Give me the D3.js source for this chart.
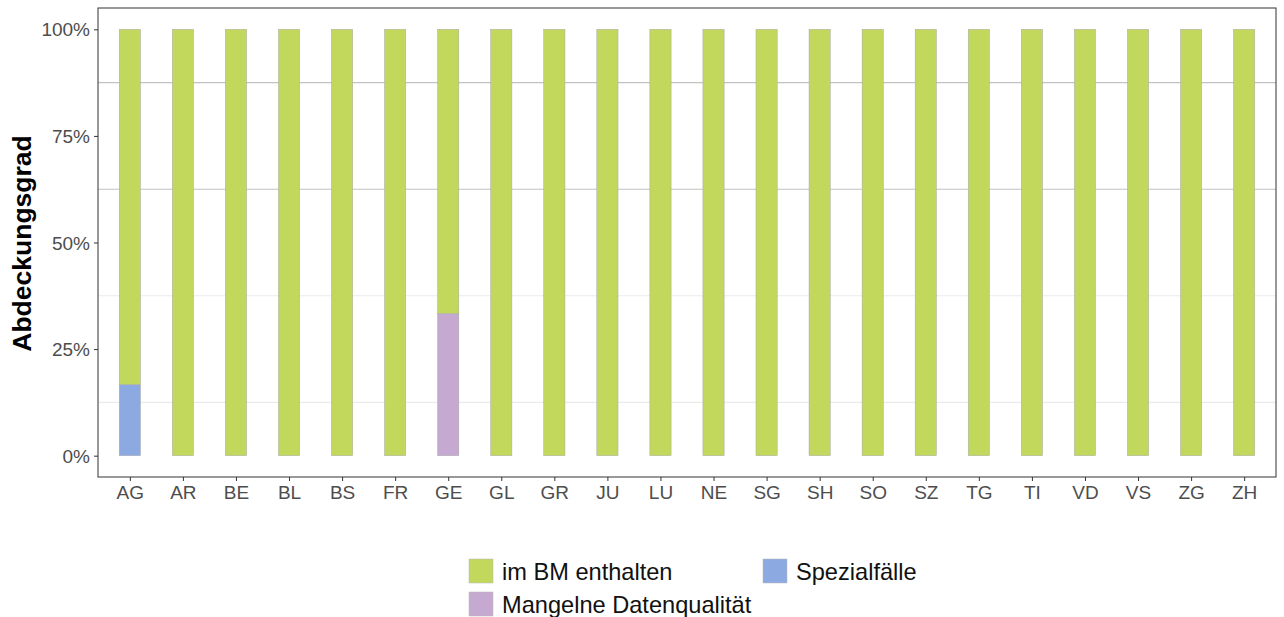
<!DOCTYPE html>
<html>
<head>
<meta charset="utf-8">
<script src="https://d3js.org/d3.v7.min.js"></script>
<style>
  body { margin: 0; background: #fff; }
  text { font-family: "Liberation Sans", Arial, sans-serif; }
</style>
</head>
<body>
<div id="chart"></div>
<script>
const cantons = ["AG","AR","BE","BL","BS","FR","GE","GL","GR","JU","LU","NE","SG","SH","SO","SZ","TG","TI","VD","VS","ZG","ZH"]
// shares per canton (stacked from bottom: Spezialfälle, Mangelne Datenqualität, im BM enthalten)
const spezial = [1/6,0,0,0,0,0,0,0,0,0,0,0,0,0,0,0,0,0,0,0,0,0]
const mangel  = [0,0,0,0,0,0,1/3,0,0,0,0,0,0,0,0,0,0,0,0,0,0,0]
const imBM    = cantons.map((c, i) => 1 - spezial[i] - mangel[i])
const yTicks = [0, 0.25, 0.5, 0.75, 1]
const minorTicks = [0.125, 0.375, 0.625, 0.875]

const series = [
  { key: "Spezialfälle", values: spezial, color: "#8DA9E1" },
  { key: "Mangelne Datenqualität", values: mangel, color: "#C6A9D1" },
  { key: "im BM enthalten", values: imBM, color: "#C1D85C" }
]

const width = 1284, height = 617
const panel = { left: 98, right: 1276, top: 8, bottom: 477 }

const svg = d3.select("#chart").append("svg")
  .attr("width", width).attr("height", height)

const unit = (panel.right - panel.left) / (cantons.length - 1 + 1.2)
const x = d3.scalePoint()
  .domain(cantons)
  .range([panel.left + 0.6 * unit, panel.right - 0.6 * unit])
const barW = 0.4 * unit

const y = d3.scaleLinear()
  .domain([-0.05, 1.05])
  .range([panel.bottom, panel.top])

// minor gridlines
svg.append("g").selectAll("line")
  .data(minorTicks).enter().append("line")
  .attr("x1", panel.left).attr("x2", panel.right)
  .attr("y1", d => y(d)).attr("y2", d => y(d))
  .attr("stroke", d => d > 0.5 ? "#C2C2C2" : "#EBEBEB")
  .attr("stroke-width", 1.1)

// stacked bars
const stackData = cantons.map((c, i) => {
  const row = { canton: c }
  series.forEach(s => row[s.key] = s.values[i])
  return row
})
const stack = d3.stack().keys(series.map(s => s.key))(stackData)

stack.forEach((layer, li) => {
  svg.append("g").selectAll("rect")
    .data(layer.filter(d => d[1] - d[0] > 0)).enter().append("rect")
    .attr("x", d => x(d.data.canton) - barW / 2)
    .attr("width", barW)
    .attr("y", d => y(d[1]))
    .attr("height", d => y(d[0]) - y(d[1]))
    .attr("fill", series[li].color)
    .attr("stroke", "#A8A8A8")
    .attr("stroke-width", 0.5)
})

// panel border
svg.append("rect")
  .attr("x", panel.left).attr("y", panel.top)
  .attr("width", panel.right - panel.left).attr("height", panel.bottom - panel.top)
  .attr("fill", "none").attr("stroke", "#333").attr("stroke-width", 1)

// axes
const yAxis = svg.append("g")
  .attr("transform", "translate(" + panel.left + ",0)")
  .call(d3.axisLeft(y).tickValues(yTicks).tickFormat(d3.format(".0%")).tickSizeOuter(0).tickSize(4).tickPadding(4))
yAxis.select(".domain").remove()
yAxis.selectAll(".tick line").attr("stroke", "#333")
yAxis.selectAll(".tick text").attr("fill", "#4D4D4D").style("font-size", "19px")
  .attr("dy", "0.35em")

const xAxis = svg.append("g")
  .attr("transform", "translate(0," + panel.bottom + ")")
  .call(d3.axisBottom(x).tickSizeOuter(0).tickSize(4).tickPadding(5))
xAxis.select(".domain").remove()
xAxis.selectAll(".tick line").attr("stroke", "#333")
xAxis.selectAll(".tick text").attr("fill", "#4D4D4D").style("font-size", "19px")

svg.append("text")
  .attr("transform", "translate(31," + ((panel.top + panel.bottom) / 2 + 1) + ") rotate(-90)")
  .attr("text-anchor", "middle")
  .style("font-size", "26.5px").style("font-weight", "bold")
  .text("Abdeckungsgrad")

// legend
const legendItems = [
  { key: "im BM enthalten", color: "#C1D85C", col: 0, row: 0 },
  { key: "Mangelne Datenqualität", color: "#C6A9D1", col: 0, row: 1 },
  { key: "Spezialfälle", color: "#8DA9E1", col: 1, row: 0 }
]
const legend = svg.append("g").attr("transform", "translate(469,559)")
const li = legend.selectAll("g").data(legendItems).enter().append("g")
  .attr("transform", d => "translate(" + (d.col * 294) + "," + (d.row * 33) + ")")
li.append("rect")
  .attr("width", 24).attr("height", 24)
  .attr("fill", d => d.color)
  .attr("stroke", "#B8B8B8").attr("stroke-width", 0.5)
li.append("text")
  .attr("x", 33).attr("y", 12).attr("dy", "0.36em")
  .style("font-size", "23.6px").attr("fill", "#111")
  .text(d => d.key)
</script>
</body>
</html>
